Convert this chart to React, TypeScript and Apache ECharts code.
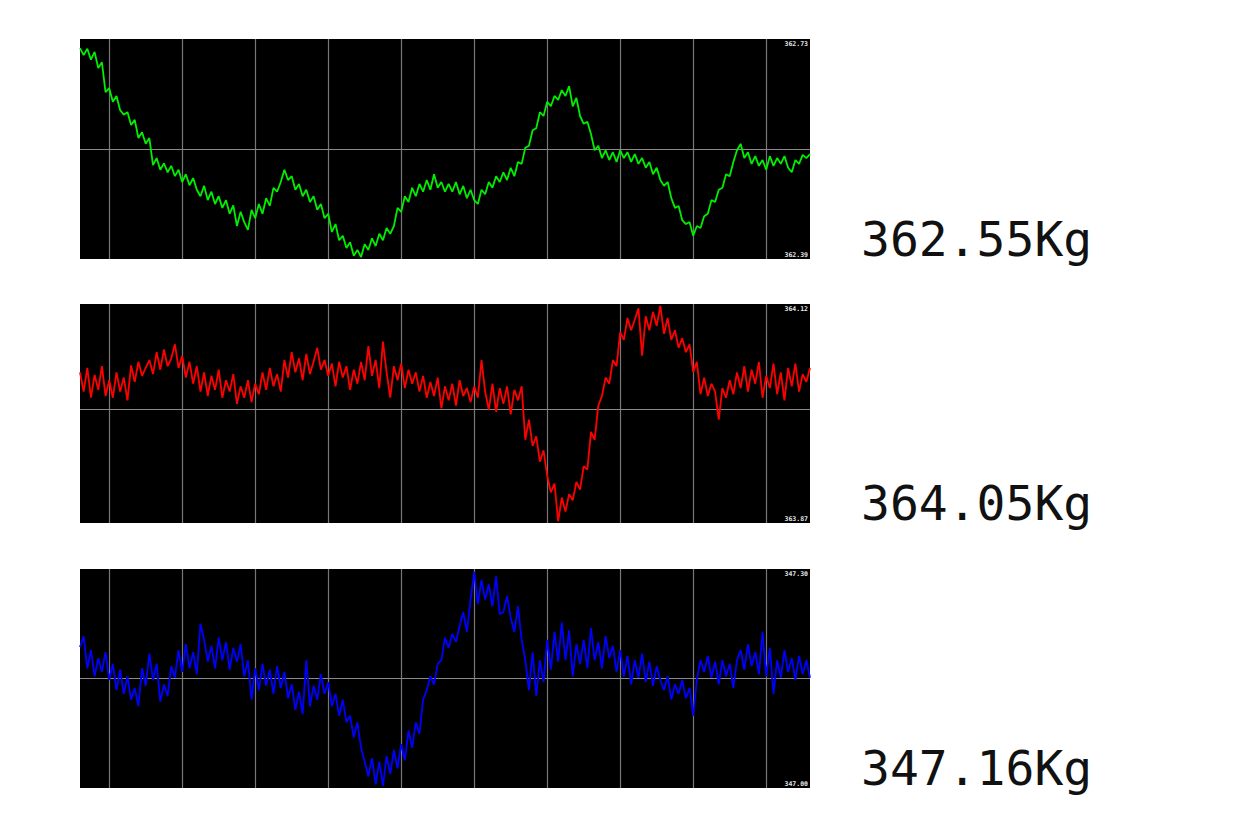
import React, { useEffect, useRef } from "react";
import * as echarts from "echarts";

// ---- data ----
const greenValues = [
  362.716, 362.705, 362.715, 362.698, 362.710, 362.685, 362.694, 362.648, 362.654, 362.633,
  362.642, 362.620, 362.613, 362.617, 362.597, 362.605, 362.577, 362.586, 362.568, 362.577,
  362.535, 362.546, 362.528, 362.538, 362.524, 362.534, 362.518, 362.528, 362.509, 362.521,
  362.504, 362.515, 362.497, 362.487, 362.503, 362.481, 362.494, 362.475, 362.487, 362.469,
  362.481, 362.460, 362.473, 362.441, 362.463, 362.447, 362.435, 362.466, 362.453, 362.475,
  362.460, 362.484, 362.472, 362.500, 362.494, 362.509, 362.528, 362.512, 362.518, 362.497,
  362.506, 362.487, 362.497, 362.478, 362.487, 362.466, 362.475, 362.453, 362.460, 362.432,
  362.444, 362.419, 362.426, 362.407, 362.416, 362.395, 362.404, 362.393, 362.413, 362.404,
  362.422, 362.410, 362.429, 362.419, 362.438, 362.429, 362.441, 362.469, 362.463, 362.487,
  362.478, 362.500, 362.487, 362.506, 362.494, 362.512, 362.497, 362.521, 362.500, 362.509,
  362.494, 362.506, 362.494, 362.509, 362.490, 362.503, 362.484, 362.497, 362.481, 362.475,
  362.497, 362.490, 362.509, 362.500, 362.518, 362.509, 362.524, 362.512, 362.531, 362.518,
  362.540, 362.537, 362.562, 362.565, 362.589, 362.592, 362.617, 362.611, 362.633, 362.626,
  362.642, 362.636, 362.651, 362.642, 362.657, 362.626, 362.639, 362.611, 362.599, 362.602,
  362.583, 362.558, 362.565, 362.546, 362.558, 362.543, 362.555, 362.540, 362.558, 362.546,
  362.555, 362.540, 362.552, 362.537, 362.546, 362.531, 362.540, 362.521, 362.531, 362.512,
  362.503, 362.509, 362.484, 362.469, 362.472, 362.450, 362.444, 362.447, 362.426, 362.441,
  362.438, 362.456, 362.460, 362.481, 362.478, 362.497, 362.500, 362.521, 362.518, 362.540,
  362.558, 362.568, 362.546, 362.555, 362.537, 362.549, 362.534, 362.543, 362.528, 362.549,
  362.534, 362.546, 362.537, 362.549, 362.531, 362.524, 362.543, 362.537, 362.551, 362.546,
  362.552,
];

const redValues = [
  364.042, 364.020, 364.047, 364.013, 364.039, 364.022, 364.049, 364.015, 364.033, 364.013,
  364.042, 364.020, 364.036, 364.010, 364.050, 364.031, 364.054, 364.038, 364.047, 364.056,
  364.040, 364.065, 364.045, 364.068, 364.049, 364.058, 364.074, 364.047, 364.061, 364.036,
  364.054, 364.029, 364.049, 364.020, 364.042, 364.015, 364.038, 364.022, 364.045, 364.013,
  364.033, 364.020, 364.040, 364.006, 364.026, 364.013, 364.033, 364.008, 364.029, 364.017,
  364.042, 364.022, 364.047, 364.026, 364.040, 364.020, 364.056, 364.036, 364.065, 364.042,
  364.058, 364.033, 364.063, 364.040, 364.054, 364.070, 364.045, 364.056, 364.038, 364.052,
  364.026, 364.054, 364.036, 364.049, 364.022, 364.045, 364.029, 364.054, 364.033, 364.072,
  364.038, 364.056, 364.024, 364.077, 364.042, 364.013, 364.049, 364.033, 364.052, 364.024,
  364.045, 364.029, 364.042, 364.020, 364.038, 364.013, 364.031, 364.015, 364.036, 364.001,
  364.026, 364.010, 364.029, 364.004, 364.033, 364.015, 364.024, 364.008, 364.026, 364.013,
  364.056, 364.020, 363.999, 364.029, 363.997, 364.024, 364.006, 364.026, 363.994, 364.022,
  364.010, 364.026, 363.965, 363.988, 363.958, 363.969, 363.940, 363.953, 363.924, 363.905,
  363.915, 363.872, 363.899, 363.883, 363.903, 363.896, 363.917, 363.908, 363.935, 363.931,
  363.974, 363.965, 364.004, 364.015, 364.036, 364.029, 364.056, 364.049, 364.088, 364.079,
  364.104, 364.090, 364.102, 364.115, 364.061, 364.106, 364.090, 364.111, 364.095, 364.118,
  364.086, 364.104, 364.079, 364.090, 364.070, 364.081, 364.065, 364.074, 364.042, 364.054,
  364.017, 364.036, 364.015, 364.029, 364.020, 363.988, 364.024, 364.013, 364.033, 364.017,
  364.042, 364.024, 364.049, 364.020, 364.045, 364.029, 364.054, 364.013, 364.038, 364.024,
  364.052, 364.017, 364.042, 364.010, 364.047, 364.026, 364.052, 364.020, 364.040, 364.031,
  364.047,
];

const blueValues = [
  347.193, 347.208, 347.164, 347.189, 347.153, 347.178, 347.159, 347.186, 347.148, 347.170,
  347.134, 347.162, 347.129, 347.153, 347.121, 347.137, 347.112, 347.164, 347.140, 347.184,
  347.148, 347.170, 347.118, 347.142, 347.126, 347.167, 347.151, 347.189, 347.159, 347.197,
  347.164, 347.186, 347.156, 347.225, 347.203, 347.173, 347.195, 347.164, 347.206, 347.175,
  347.200, 347.162, 347.192, 347.173, 347.197, 347.153, 347.175, 347.121, 347.164, 347.134,
  347.170, 347.140, 347.162, 347.129, 347.167, 347.137, 347.159, 347.123, 347.142, 347.107,
  347.132, 347.101, 347.175, 347.112, 347.140, 347.121, 347.156, 347.129, 347.145, 347.112,
  347.129, 347.099, 347.121, 347.090, 347.099, 347.069, 347.090, 347.055, 347.036, 347.016,
  347.041, 347.005, 347.036, 347.003, 347.044, 347.019, 347.052, 347.027, 347.060, 347.038,
  347.079, 347.055, 347.090, 347.074, 347.121, 347.134, 347.153, 347.142, 347.170, 347.175,
  347.206, 347.192, 347.211, 347.200, 347.222, 347.241, 347.214, 347.258, 347.296, 347.252,
  347.285, 347.258, 347.279, 347.249, 347.290, 347.238, 347.241, 347.263, 347.233, 347.214,
  347.249, 347.203, 347.175, 347.134, 347.186, 347.126, 347.175, 347.145, 347.203, 347.162,
  347.214, 347.173, 347.227, 347.175, 347.216, 347.153, 347.197, 347.170, 347.203, 347.164,
  347.219, 347.175, 347.200, 347.164, 347.208, 347.178, 347.195, 347.159, 347.189, 347.153,
  347.181, 347.142, 347.175, 347.151, 347.184, 347.145, 347.173, 347.140, 347.167, 347.148,
  347.134, 347.153, 347.121, 347.142, 347.129, 347.148, 347.123, 347.137, 347.099, 347.148,
  347.175, 347.159, 347.181, 347.151, 347.173, 347.142, 347.175, 347.153, 347.170, 347.137,
  347.175, 347.189, 347.162, 347.197, 347.167, 347.186, 347.156, 347.214, 347.153, 347.192,
  347.129, 347.175, 347.151, 347.189, 347.159, 347.178, 347.148, 347.181, 347.156, 347.175,
  347.151,
];

const axisMins = [362.39, 363.87, 347.0];
const axisMaxs = [362.73, 364.12, 347.3];
const maxLabels = ["362.73", "364.12", "347.30"];
const minLabels = ["362.39", "363.87", "347.00"];
const readings = ["362.55Kg", "364.05Kg", "347.16Kg"];
const gridXs = [8, 28, 48, 68, 88, 108, 128, 148, 168, 188];

// ---- layout / style ----
const seriesList = [greenValues, redValues, blueValues];
const colors = ["#00ee00", "#ff0000", "#0000ff"];
const PANEL_LEFT = 80;
const PANEL_WIDTH = 730;
const PANEL_TOPS = [39, 304, 569];
const PANEL_HEIGHTS = [220, 219, 219];

export default function App() {
  const ref = useRef<HTMLDivElement>(null);

  useEffect(() => {
    if (!ref.current) return;
    const chart = echarts.init(ref.current, null, { renderer: "svg" });

    const grids = PANEL_TOPS.map((top, k) => ({
      left: PANEL_LEFT,
      top,
      width: PANEL_WIDTH,
      height: PANEL_HEIGHTS[k],
      show: true,
      backgroundColor: "#000000",
      borderWidth: 0,
      containLabel: false,
    }));

    const xAxes = seriesList.map((vals, k) => ({
      type: "value",
      gridIndex: k,
      min: 0,
      max: vals.length - 1,
      show: false,
      splitLine: { show: false },
    }));

    const yAxes = seriesList.map((_, k) => ({
      type: "value",
      gridIndex: k,
      min: axisMins[k],
      max: axisMaxs[k],
      show: false,
      splitLine: { show: false },
    }));

    const series = seriesList.map((vals, k) => ({
      type: "line",
      xAxisIndex: k,
      yAxisIndex: k,
      data: vals.map((v, i) => [i, v]),
      showSymbol: false,
      symbol: "none",
      lineStyle: { color: colors[k], width: 1.8 },
      z: 3,
      markLine: {
        silent: true,
        symbol: ["none", "none"],
        z: 1,
        label: { show: false },
        lineStyle: { color: "#777777", width: 1.2, type: "solid" },
        emphasis: { disabled: true },
        data: [
          ...gridXs.map((x) => ({ xAxis: x })),
          { yAxis: (axisMins[k] + axisMaxs[k]) / 2, lineStyle: { color: "#8a8a8a" } },
        ],
      },
    }));

    const graphics: any[] = [];
    PANEL_TOPS.forEach((top, k) => {
      const bottom = top + PANEL_HEIGHTS[k];
      graphics.push({
        type: "text",
        x: PANEL_LEFT + PANEL_WIDTH - 2,
        y: top + 5,
        z: 10,
        style: {
          text: maxLabels[k],
          fill: "#e6e6e6",
          font: 'bold 6.5px "DejaVu Sans Mono"',
          align: "right",
          verticalAlign: "middle",
        },
      });
      graphics.push({
        type: "text",
        x: PANEL_LEFT + PANEL_WIDTH - 2,
        y: bottom - 4,
        z: 10,
        style: {
          text: minLabels[k],
          fill: "#e6e6e6",
          font: 'bold 6.5px "DejaVu Sans Mono"',
          align: "right",
          verticalAlign: "middle",
        },
      });
      graphics.push({
        type: "text",
        x: 861,
        y: bottom - 20,
        style: {
          text: readings[k],
          fill: "#111111",
          font: '48px "DejaVu Sans Mono"',
          align: "left",
          verticalAlign: "middle",
        },
      });
    });

    chart.setOption({
      animation: false,
      backgroundColor: "#ffffff",
      grid: grids,
      xAxis: xAxes,
      yAxis: yAxes,
      series,
      graphic: graphics,
    });

    return () => chart.dispose();
  }, []);

  return (
    <div
      ref={ref}
      style={{ position: "absolute", left: 0, top: 0, width: 1250, height: 833 }}
    />
  );
}
